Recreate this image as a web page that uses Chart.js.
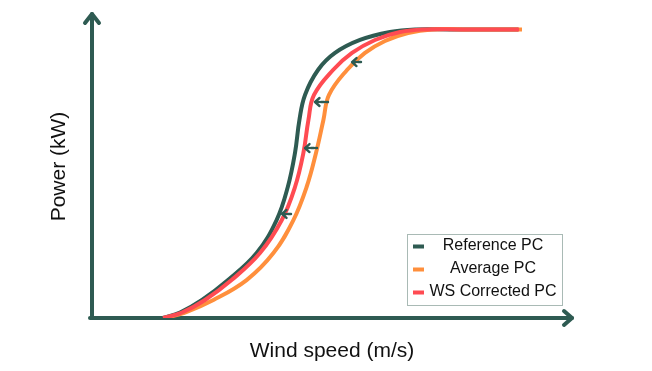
<!DOCTYPE html>
<html>
<head>
<meta charset="utf-8">
<script src="https://cdn.jsdelivr.net/npm/chart.js@4.4.1/dist/chart.umd.min.js"></script>
<style>
  html, body { margin: 0; padding: 0; background: #fff; }
  #wrap { width: 652px; height: 371px; }
</style>
</head>
<body>
<div id="wrap"><canvas id="pcChart" width="652" height="371"></canvas></div>
<script>
// Power curves (wind speed m/s, power kW)
const refSpeed = [3.55, 4.4, 5.5, 6.8, 8.23, 9.23, 9.79, 10.15, 10.37, 10.65, 11.3, 12.15, 13.4, 14.9, 16.15, 17.9, 21.3];
const refPower = [0, 38, 125, 263, 450, 679, 908, 1144, 1372, 1546, 1719, 1837, 1927, 1982, 2000, 2000, 2000];

const avgSpeed = [3.65, 4.65, 6.07, 7.73, 9.07, 10.07, 10.73, 11.2, 11.57, 11.85, 12.75, 13.65, 14.65, 15.8, 17.0, 18.9, 21.5];
const avgPower = [0, 38, 125, 263, 450, 679, 908, 1144, 1372, 1546, 1719, 1837, 1920, 1975, 2000, 2000, 2000];

const wsSpeed = [3.55, 4.5, 5.65, 6.98, 8.4, 9.49, 10.15, 10.57, 10.82, 11.1, 12.05, 13.0, 14.15, 15.4, 16.65, 18.4, 21.35];
const wsPower = [0, 38, 125, 263, 450, 679, 908, 1144, 1372, 1546, 1719, 1837, 1927, 1982, 2000, 2000, 2000];

// Correction arrows: head / tail speed, power level
const arrowHead = [13.0, 11.15, 10.65, 9.5];
const arrowTail = [13.45, 11.8, 11.25, 10.0];
const arrowPower = [1774, 1497, 1178, 721];

const seriesLabels = ['Reference PC', 'Average PC', 'WS Corrected PC'];
const seriesColors = ['#2e5b52', '#ff8f3c', '#ff4b52'];

const axisColor = '#2e5b52';

function toPoints(xs, ys) {
    return xs.map((x, i) => ({ x: x, y: ys[i] }));
}

// axes with arrowheads, correction arrows, legend box
const decorPlugin = {
    id: 'decor',
    beforeDatasetsDraw(chart) {
        const ctx = chart.ctx;
        const a = chart.chartArea;
        ctx.save();
        ctx.strokeStyle = axisColor;
        ctx.lineWidth = 4;
        ctx.lineCap = 'round';
        ctx.lineJoin = 'round';
        // y axis
        ctx.beginPath();
        ctx.moveTo(a.left, a.bottom);
        ctx.lineTo(a.left, a.top - 1);
        ctx.stroke();
        ctx.beginPath();
        ctx.moveTo(a.left - 7, a.top + 8);
        ctx.lineTo(a.left, a.top - 1);
        ctx.lineTo(a.left + 7, a.top + 8);
        ctx.stroke();
        // x axis
        ctx.beginPath();
        ctx.moveTo(a.left - 2, a.bottom);
        ctx.lineTo(a.right, a.bottom);
        ctx.stroke();
        ctx.beginPath();
        ctx.moveTo(a.right - 8, a.bottom - 7);
        ctx.lineTo(a.right, a.bottom);
        ctx.lineTo(a.right - 8, a.bottom + 7);
        ctx.stroke();
        ctx.restore();
    },
    afterDatasetsDraw(chart) {
        const ctx = chart.ctx;
        const xs = chart.scales.x;
        const ys = chart.scales.y;
        ctx.save();
        ctx.strokeStyle = axisColor;
        ctx.lineWidth = 2.4;
        ctx.lineCap = 'round';
        ctx.lineJoin = 'round';
        arrowHead.forEach((h, i) => {
            const hx = xs.getPixelForValue(h);
            const tx = xs.getPixelForValue(arrowTail[i]);
            const py = ys.getPixelForValue(arrowPower[i]);
            ctx.beginPath();
            ctx.moveTo(hx + 4.5, py - 4);
            ctx.lineTo(hx, py);
            ctx.lineTo(hx + 4.5, py + 4);
            ctx.stroke();
            ctx.setLineDash([3, 2]);
            ctx.beginPath();
            ctx.moveTo(hx + 1, py);
            ctx.lineTo(tx, py);
            ctx.stroke();
            ctx.setLineDash([]);
        });
        ctx.restore();

        // legend
        ctx.save();
        ctx.fillStyle = '#fff';
        ctx.fillRect(407, 234, 155, 71);
        ctx.strokeStyle = '#a9bab5';
        ctx.lineWidth = 1;
        ctx.strokeRect(407.5, 234.5, 155, 71);
        ctx.font = "16px 'Liberation Sans', Arial, sans-serif";
        ctx.textAlign = 'center';
        ctx.textBaseline = 'middle';
        chart.data.datasets.forEach((ds, i) => {
            const y = 246 + i * 23;
            ctx.fillStyle = ds.borderColor;
            ctx.fillRect(413, y - 1.5, 11, 4);
            ctx.fillStyle = '#111';
            ctx.fillText(ds.label, 493, y);
        });
        ctx.restore();
    }
};

const pcChart = new Chart(document.getElementById('pcChart'), {
    type: 'line',
    data: {
        datasets: [
            { label: seriesLabels[0], data: toPoints(refSpeed, refPower), borderColor: seriesColors[0], order: 2 },
            { label: seriesLabels[1], data: toPoints(avgSpeed, avgPower), borderColor: seriesColors[1], order: 1 },
            { label: seriesLabels[2], data: toPoints(wsSpeed, wsPower), borderColor: seriesColors[2], order: 0 }
        ]
    },
    options: {
        responsive: false,
        animation: false,
        devicePixelRatio: 1,
        layout: { padding: { left: 46.4, right: 80, top: 15, bottom: 7.4 } },
        elements: {
            line: { borderWidth: 4, tension: 0.4, fill: false, borderCapStyle: 'butt' },
            point: { radius: 0 }
        },
        plugins: {
            legend: { display: false },
            tooltip: { enabled: false }
        },
        scales: {
            x: {
                type: 'linear',
                min: 0,
                max: 24,
                grid: { display: false },
                border: { display: false },
                ticks: { display: false },
                afterFit(scale) { scale.height = 45.6; },
                title: {
                    display: true,
                    text: 'Wind speed (m/s)',
                    color: '#111',
                    font: { family: "'Liberation Sans', Arial, sans-serif", size: 21 },
                    padding: { top: 20.4, bottom: 0 }
                }
            },
            y: {
                type: 'linear',
                min: 0,
                max: 2100,
                grid: { display: false },
                border: { display: false },
                ticks: { display: false },
                afterFit(scale) { scale.width = 45.6; },
                title: {
                    display: true,
                    text: 'Power (kW)',
                    color: '#111',
                    font: { family: "'Liberation Sans', Arial, sans-serif", size: 21 },
                    padding: { top: 0, bottom: 20.4 }
                }
            }
        }
    },
    plugins: [decorPlugin]
});
</script>
</body>
</html>
